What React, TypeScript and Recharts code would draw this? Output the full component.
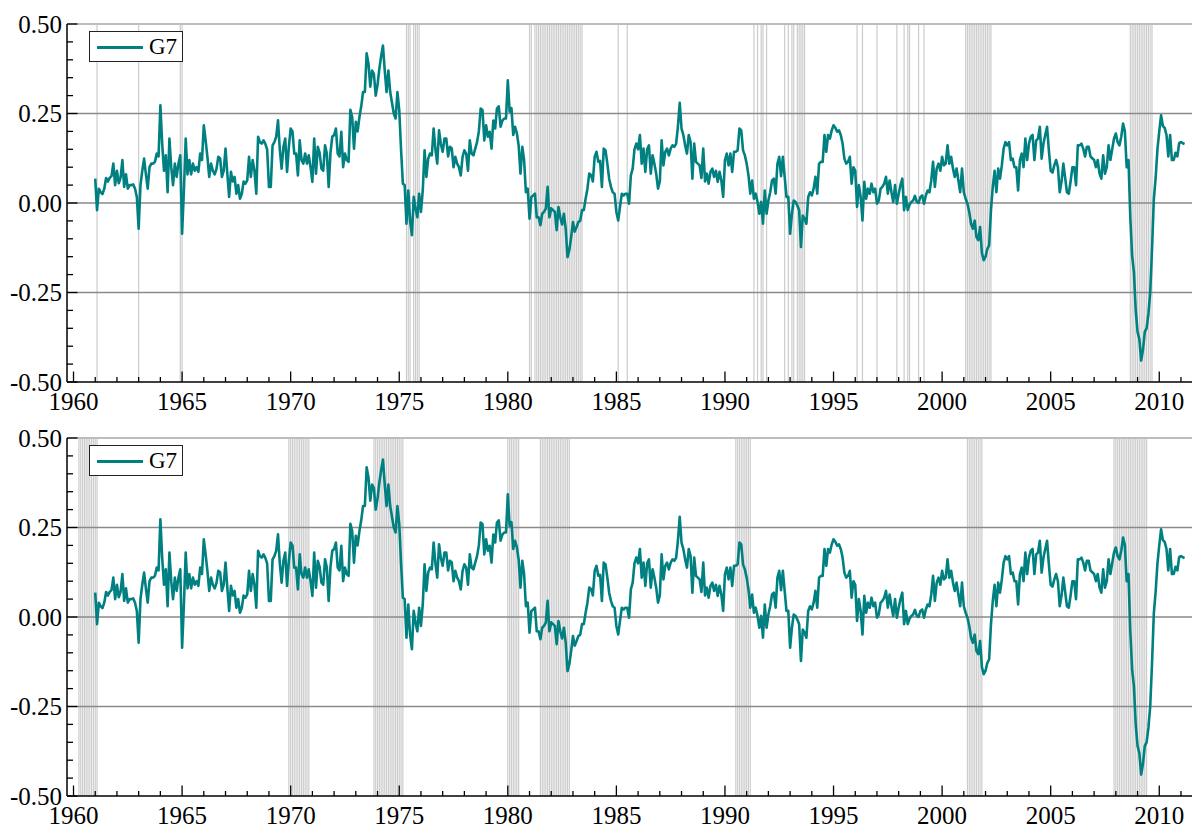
import React from 'react';
import { LineChart, Line, XAxis, YAxis, ReferenceLine } from 'recharts';

// ---------- data: monthly G7 values, starting January 1961 ----------
const START_YEAR = 1961;

const g7_1960s = [
  0.068, -0.02, 0.04, 0.03, 0.025, 0.04, 0.07, 0.06, 0.07, 0.075, 0.11, 0.05,
  0.09, 0.055, 0.07, 0.12, 0.045, 0.08, 0.04, 0.05, 0.05, 0.052, 0.04, 0.017,
  -0.072, 0.05, 0.09, 0.124, 0.08, 0.04, 0.1, 0.11, 0.11, 0.115, 0.138, 0.13,
  0.273, 0.166, 0.09, 0.133, 0.03, 0.18, 0.1, 0.05, 0.11, 0.073, 0.11, 0.133,
  -0.086, 0.035, 0.18, 0.08, 0.12, 0.08, 0.11, 0.09, 0.1, 0.087, 0.138, 0.12,
  0.217, 0.175, 0.128, 0.073, 0.11, 0.09, 0.08, 0.095, 0.129, 0.125, 0.073, 0.09,
  0.152, 0.082, 0.017, 0.087, 0.06, 0.073, 0.026, 0.05, 0.012, 0.026, 0.06, 0.054,
  0.063, 0.129, 0.073, 0.12, 0.09, 0.026, 0.185, 0.17, 0.166, 0.175, 0.165, 0.15,
  0.045, 0.045, 0.161, 0.17, 0.185, 0.231, 0.15, 0.096, 0.157, 0.18, 0.087, 0.157,
];

const g7_1970s = [
  0.208, 0.2, 0.138, 0.138, 0.077, 0.175, 0.12, 0.11, 0.138, 0.11, 0.133, 0.1,
  0.059, 0.18, 0.082, 0.157, 0.14, 0.096, 0.09, 0.161, 0.138, 0.045, 0.14, 0.185,
  0.19, 0.208, 0.138, 0.13, 0.199, 0.1, 0.138, 0.12, 0.115, 0.26, 0.24, 0.152,
  0.227, 0.2, 0.24, 0.27, 0.31, 0.31, 0.418, 0.39, 0.325, 0.37, 0.36, 0.3,
  0.33, 0.375, 0.41, 0.44, 0.37, 0.31, 0.37, 0.31, 0.28, 0.25, 0.236, 0.31,
  0.26, 0.15, 0.054, 0.05, -0.058, 0.035, -0.05, -0.09, 0.017, -0.015, -0.04, 0.026,
  -0.025, 0.035, 0.147, 0.073, 0.124, 0.138, 0.133, 0.208, 0.15, 0.11, 0.203, 0.165,
  0.143, 0.18, 0.18, 0.13, 0.157, 0.153, 0.1, 0.129, 0.11, 0.1, 0.077, 0.129,
  0.147, 0.138, 0.09, 0.175, 0.138, 0.133, 0.152, 0.17, 0.2, 0.264, 0.26, 0.175,
  0.217, 0.185, 0.199, 0.152, 0.23, 0.208, 0.264, 0.27, 0.213, 0.23, 0.236, 0.236,
];

const g7_1980s = [
  0.343, 0.255, 0.265, 0.19, 0.213, 0.195, 0.16, 0.082, 0.157, 0.12, 0.03, 0.04,
  -0.044, 0.017, 0.021, 0.026, -0.04, -0.04, -0.062, -0.03, -0.025, -0.016, 0.045, -0.04,
  -0.015, -0.02, -0.025, -0.076, -0.011, -0.04, -0.06, -0.03, -0.072, -0.151, -0.132, -0.095,
  -0.053, -0.08, -0.067, -0.053, -0.05, -0.02, -0.02, 0.012, 0.04, 0.082, 0.078, 0.06,
  0.129, 0.143, 0.115, 0.118, 0.045, 0.152, 0.147, 0.11, 0.068, 0.045, 0.03, 0.026,
  -0.025, -0.049, -0.011, 0.026, 0.021, 0.026, 0.026, -0.002, 0.077, 0.096, 0.15, 0.166,
  0.15, 0.19, 0.11, 0.152, 0.087, 0.15, 0.161, 0.082, 0.133, 0.11, 0.082, 0.04,
  0.06, 0.175, 0.105, 0.143, 0.152, 0.133, 0.152, 0.161, 0.157, 0.165, 0.213, 0.28,
  0.208, 0.19, 0.161, 0.138, 0.19, 0.17, 0.068, 0.166, 0.115, 0.11, 0.105, 0.07,
  0.152, 0.06, 0.082, 0.054, 0.087, 0.096, 0.073, 0.09, 0.059, 0.087, 0.063, 0.017,
];

const g7_1990s = [
  0.12, 0.138, 0.105, 0.138, 0.087, 0.143, 0.143, 0.147, 0.208, 0.203, 0.147, 0.133,
  0.11, 0.077, 0.026, 0.063, 0.012, 0.026, 0.003, -0.03, 0.003, -0.058, 0.035, -0.03,
  0.007, 0.03, 0.063, 0.068, 0.026, 0.11, 0.129, 0.075, 0.129, 0.073, 0.017, 0.017,
  -0.086, -0.03, 0.007, 0.003, -0.007, -0.02, -0.123, -0.035, -0.044, -0.058, 0.017, 0.03,
  0.021, 0.04, 0.073, 0.026, 0.11, 0.115, 0.115, 0.19, 0.143, 0.19, 0.18, 0.203,
  0.217, 0.21, 0.199, 0.203, 0.19, 0.166, 0.124, 0.11, 0.115, 0.129, 0.054, 0.1,
  0.09, -0.011, 0.05, 0.017, -0.049, 0.059, 0.012, 0.04, 0.026, 0.054, 0.03, 0.04,
  -0.002, 0.007, 0.04, 0.045, 0.054, 0.073, 0.026, 0.063, 0.03, 0.003, 0.05, -0.002,
  0.026, 0.05, 0.068, -0.02, 0.017, -0.02, -0.005, 0.003, 0.007, 0.02, 0.003, 0.0,
  0.017, 0.021, -0.002, 0.021, 0.035, 0.03, 0.063, 0.115, 0.045, 0.096, 0.11, 0.09,
];

const g7_2000s = [
  0.129, 0.105, 0.11, 0.161, 0.11, 0.129, 0.096, 0.073, 0.096, 0.063, 0.03, 0.096,
  0.03, 0.012, -0.002, -0.025, -0.058, -0.072, -0.049, -0.095, -0.104, -0.067, -0.14, -0.16,
  -0.15, -0.128, -0.118, -0.02, 0.045, 0.09, 0.03, 0.096, 0.068, 0.105, 0.152, 0.17,
  0.161, 0.17, 0.12, 0.124, 0.1, 0.1, 0.035, 0.12, 0.138, 0.1, 0.18, 0.12,
  0.166, 0.185, 0.19, 0.12, 0.175, 0.18, 0.213, 0.124, 0.166, 0.19, 0.213, 0.147,
  0.09, 0.085, 0.105, 0.12, 0.1, 0.03, 0.06, 0.11, 0.07, 0.03, 0.026, 0.06,
  0.1, 0.1, 0.05, 0.161, 0.161, 0.166, 0.152, 0.13, 0.157, 0.157, 0.13, 0.125,
  0.12, 0.1, 0.12, 0.082, 0.068, 0.133, 0.082, 0.1, 0.161, 0.12, 0.15, 0.18,
  0.194, 0.17, 0.161, 0.185, 0.222, 0.2, 0.1, 0.12, -0.04, -0.146, -0.193, -0.3,
  -0.36, -0.38, -0.44, -0.41, -0.36, -0.35, -0.31, -0.25, -0.13, 0.01, 0.07, 0.15,
];

const g7_2010s = [
  0.2, 0.245, 0.215, 0.21, 0.19, 0.13, 0.19, 0.12, 0.12, 0.14, 0.13, 0.167,
  0.17, 0.167, 0.165,
];

// ---------- vertical month markers ----------
// top panel: individual months [year, month]
const topMarkMonths: [number, number][] = [
  [1961, 2], [1963, 1], [1964, 12], [1965, 1],
  [1975, 5], [1975, 6], [1975, 7], [1975, 9], [1975, 10], [1975, 11], [1975, 12],
  [1981, 1], [1981, 2],
  [1985, 2], [1985, 7],
  [1991, 5], [1991, 7], [1991, 9], [1991, 10], [1991, 12],
  [1992, 10], [1992, 12], [1993, 2], [1993, 3], [1993, 5], [1993, 6], [1993, 7], [1993, 8], [1993, 9],
  [1996, 2], [1996, 5], [1997, 1], [1997, 12], [1998, 4], [1998, 6], [1998, 7], [1998, 12], [1999, 3],
];
// top panel: continuous runs [startYear, startMonth, endYear, endMonth]
const topMarkRuns: [number, number, number, number][] = [
  [1981, 4, 1983, 6],
  [2001, 2, 2002, 4],
  [2008, 9, 2009, 9],
];
// bottom panel: recession runs
const bottomMarkRuns: [number, number, number, number][] = [
  [1960, 4, 1961, 2],
  [1969, 12, 1970, 11],
  [1973, 11, 1975, 3],
  [1980, 1, 1980, 7],
  [1981, 7, 1982, 11],
  [1990, 7, 1991, 3],
  [2001, 3, 2001, 11],
  [2007, 12, 2009, 6],
];

const yTicks = [
  -0.5, -0.45, -0.4, -0.35, -0.3, -0.25, -0.2, -0.15, -0.1, -0.05, 0,
  0.05, 0.1, 0.15, 0.2, 0.25, 0.3, 0.35, 0.4, 0.45, 0.5,
];
const yMajor = [-0.5, -0.25, 0, 0.25, 0.5];
const yGrid = [-0.25, 0, 0.25];
const xTicks = [
  1960, 1961, 1962, 1963, 1964, 1965, 1966, 1967, 1968, 1969,
  1970, 1971, 1972, 1973, 1974, 1975, 1976, 1977, 1978, 1979,
  1980, 1981, 1982, 1983, 1984, 1985, 1986, 1987, 1988, 1989,
  1990, 1991, 1992, 1993, 1994, 1995, 1996, 1997, 1998, 1999,
  2000, 2001, 2002, 2003, 2004, 2005, 2006, 2007, 2008, 2009,
  2010, 2011,
];
const xLabelled = [1960, 1965, 1970, 1975, 1980, 1985, 1990, 1995, 2000, 2005, 2010];
const X_DOMAIN: [number, number] = [1959.7, 2011.6];

const SERIES_NAME = 'G7';
const COLOR = '#008080';
const FONT = 'Liberation Serif';

// ---------- helpers ----------
const g7Values = [...g7_1960s, ...g7_1970s, ...g7_1980s, ...g7_1990s, ...g7_2000s, ...g7_2010s];
const data = g7Values.map((v, i) => ({ t: START_YEAR + i / 12, g7: v }));

const monthToT = (y: number, m: number) => y + (m - 1) / 12;
const expandRuns = (runs: [number, number, number, number][]) => {
  const out: number[] = [];
  runs.forEach(([y0, m0, y1, m1]) => {
    let y = y0;
    let m = m0;
    while (y < y1 || (y === y1 && m <= m1)) {
      out.push(monthToT(y, m));
      m += 1;
      if (m > 12) { m = 1; y += 1; }
    }
  });
  return out;
};
const topMarks = [...topMarkMonths.map(([y, m]) => monthToT(y, m)), ...expandRuns(topMarkRuns)];
const bottomMarks = expandRuns(bottomMarkRuns);

const YTick = (props: any) => {
  const { x, y, payload } = props;
  const v = payload.value as number;
  const major = yMajor.some((mv) => Math.abs(mv - v) < 1e-9);
  return (
    <g>
      <line x1={x} x2={x + (major ? 10.5 : 6)} y1={y} y2={y} stroke="#000" strokeWidth={1.3} />
      {major && (
        <text x={x - 5} y={y + 8.5} textAnchor="end" style={{ fontFamily: FONT, fontSize: 25 }} fill="#000">
          {v.toFixed(2)}
        </text>
      )}
    </g>
  );
};

const XTick = (props: any) => {
  const { x, y, payload } = props;
  const yr = payload.value as number;
  const major = xLabelled.includes(yr);
  return (
    <g>
      <line x1={x} x2={x} y1={y} y2={y - (major ? 10.5 : 5)} stroke="#000" strokeWidth={1.3} />
      {major && (
        <text x={x} y={y + 27.5} textAnchor="middle" style={{ fontFamily: FONT, fontSize: 25 }} fill="#000">
          {yr}
        </text>
      )}
    </g>
  );
};

const LegendBox = ({ name, color }: { name: string; color: string }) => (
  <div
    style={{
      position: 'absolute',
      left: 81,
      top: 23,
      width: 92,
      height: 29,
      border: '1px solid #222',
      background: '#fff',
      boxSizing: 'content-box',
    }}
  >
    <svg width={60} height={29} style={{ position: 'absolute', left: 0, top: 0 }}>
      <line x1={7} x2={53} y1={15.5} y2={15.5} stroke={color} strokeWidth={3} />
    </svg>
    <span
      style={{
        position: 'absolute',
        left: 59,
        top: 1,
        fontFamily: FONT,
        fontSize: 23,
        lineHeight: '27px',
        color: '#000',
      }}
    >
      {name}
    </span>
  </div>
);

const Panel = ({ marks }: { marks: number[] }) => (
  <div style={{ position: 'relative', width: 1192, height: 416 }}>
    <LineChart
      width={1192}
      height={416}
      data={data}
      margin={{ top: 16, right: 6, bottom: 0, left: 0 }}
    >
      {marks.map((t) => (
        <ReferenceLine key={`m${t}`} x={t} stroke="#cccccc" strokeWidth={1.2} ifOverflow="hidden" zIndex={-50} />
      ))}
      {yGrid.map((v) => (
        <ReferenceLine key={`g${v}`} y={v} stroke="#8a8a8a" strokeWidth={1.3} zIndex={-40} />
      ))}
      <ReferenceLine y={0.5} stroke="#bdbdbd" strokeWidth={2} zIndex={-40} />
      <XAxis
        dataKey="t"
        type="number"
        domain={X_DOMAIN}
        allowDataOverflow
        ticks={xTicks}
        interval={0}
        tickSize={0}
        tickMargin={0}
        tickLine={false}
        axisLine={{ stroke: '#000', strokeWidth: 1.5 }}
        tick={<XTick />}
        height={42}
      />
      <YAxis
        type="number"
        domain={[-0.5, 0.5]}
        allowDataOverflow
        ticks={yTicks}
        interval={0}
        tickSize={0}
        tickMargin={0}
        tickLine={false}
        axisLine={{ stroke: '#000', strokeWidth: 1.5 }}
        tick={<YTick />}
        width={59}
      />
      <Line
        type="linear"
        dataKey="g7"
        name={SERIES_NAME}
        stroke={COLOR}
        strokeWidth={2.6}
        dot={false}
        activeDot={false}
        isAnimationActive={false}
        strokeLinejoin="round"
      />
    </LineChart>
    <LegendBox name={SERIES_NAME} color={COLOR} />
  </div>
);

export default function App() {
  return (
    <div style={{ position: 'relative', width: 1192, height: 822, background: '#fff' }}>
      <div style={{ position: 'absolute', left: 0, top: 0 }}>
        <Panel marks={topMarks} />
      </div>
      <div style={{ position: 'absolute', left: 0, top: 414 }}>
        <Panel marks={bottomMarks} />
      </div>
    </div>
  );
}
